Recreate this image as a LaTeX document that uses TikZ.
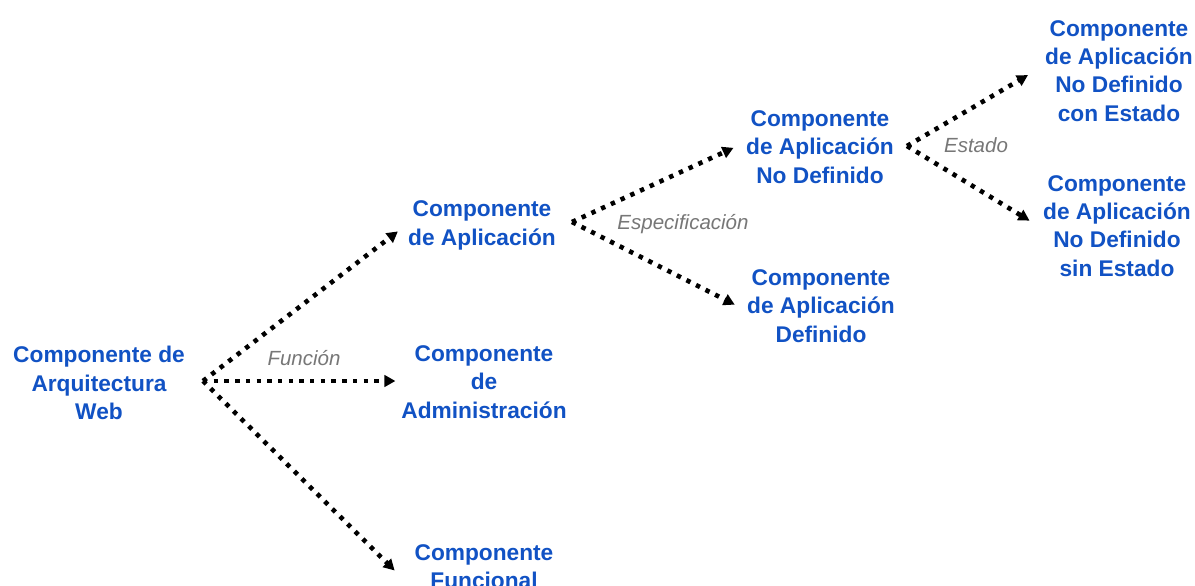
\documentclass[tikz,border=0pt]{standalone}
\usepackage{fontspec}
\setmainfont{Liberation Sans}
\usetikzlibrary{arrows.meta,calc}
\definecolor{nodeblue}{HTML}{1152C4}
\definecolor{labgray}{HTML}{777777}
\tikzset{
  comp/.style={align=center, text=nodeblue, inner sep=0pt, outer sep=0pt,
    font=\fontsize{22.7}{28.3}\selectfont\bfseries},
  lab/.style={text=labgray, inner sep=0pt, font=\fontsize{20.5}{24}\selectfont\itshape},
  arr/.style={line width=4.6pt, dash pattern=on 4.4pt off 6.3pt,
    -{Triangle[length=11pt,width=11.5pt]}}
}
\begin{document}
\begin{tikzpicture}[x=1pt,y=-1pt]
\useasboundingbox[fill=white] (0,0) rectangle (1195,586);
\node[comp] (web) at (99,383) {Componente de\\Arquitectura\\Web};
\node[comp] (apl) at (482,225.5) {Componente\\de Aplicación};
\node[comp] (adm) at (484,382) {Componente\\de\\Administración};
\node[comp] (fun) at (484,566.5) {Componente\\Funcional};
\node[comp] (nd) at (820,147) {Componente\\de Aplicación\\No Definido};
\node[comp] (def) at (821,306) {Componente\\de Aplicación\\Definido};
\node[comp] (con) at (1119,71) {Componente\\de Aplicación\\No Definido\\con Estado};
\node[comp] (sin) at (1117,226) {Componente\\de Aplicación\\No Definido\\sin Estado};
\coordinate (j1) at (203,381);
\coordinate (j2) at (572,222);
\coordinate (j3) at (907,146);
\draw[arr, shorten >=13pt] (j1) -- ($(apl.west)+(0,-2)$);
\draw[arr, shorten >=6pt] (j1) -- ($(adm.west)+(0,-1)$);
\draw[arr] (j1) -- ($(fun.west)+(-20,4)$);
\draw[arr, shorten >=14pt] (j2) -- ($(nd.west)+(0,-5)$);
\draw[arr, shorten >=14pt] (j2) -- ($(def.west)+(0,5)$);
\draw[arr, shorten >=20pt] (j3) -- ($(con.west)+(0,-6)$);
\draw[arr, shorten >=16pt] (j3) -- ($(sin.west)+(0,3)$);
\node[lab] (lf) at (304,358) {Función};
\node[lab] (le) at (683,224) {Especificación};
\node[lab] (ls) at (976,145) {Estado};
\end{tikzpicture}
\end{document}
